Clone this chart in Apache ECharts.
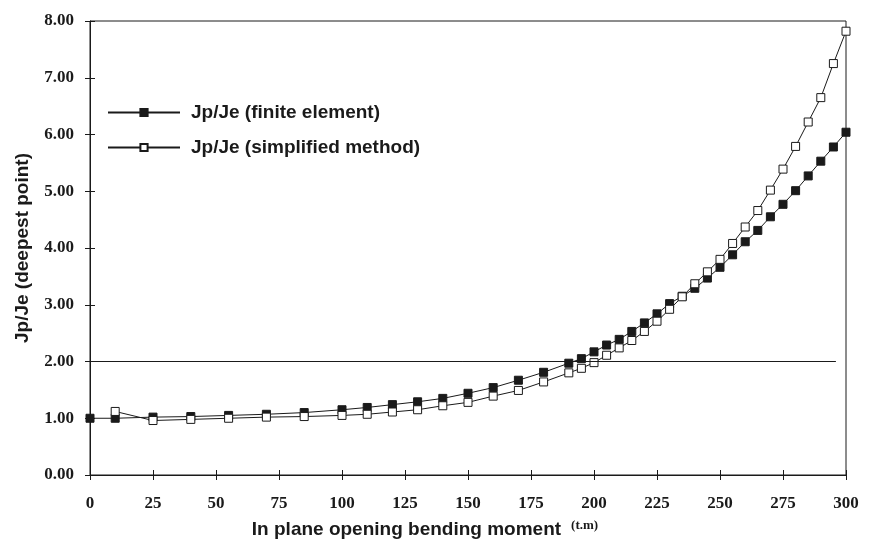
<!DOCTYPE html>
<html>
<head>
<meta charset="utf-8">
<script src="https://cdn.jsdelivr.net/npm/echarts@6/dist/echarts.min.js"></script>
<style>html,body{margin:0;padding:0;background:#fff}#c{width:870px;height:552px}</style>
</head>
<body>
<div id="c"></div>
<script>
// Bending moment (t.m)
const xFinite = [0,10,25,40,55,70,85,100,110,120,130,140,150,160,170,180,190,195,200,205,210,215,220,225,230,235,240,245,250,255,260,265,270,275,280,285,290,295,300];
const yFinite = [1.00,1.00,1.02,1.03,1.05,1.07,1.10,1.15,1.19,1.24,1.29,1.35,1.44,1.54,1.67,1.81,1.97,2.05,2.17,2.29,2.39,2.53,2.68,2.84,3.02,3.15,3.29,3.47,3.66,3.88,4.11,4.31,4.55,4.77,5.01,5.27,5.53,5.78,6.04];
const xSimplified = [10,25,40,55,70,85,100,110,120,130,140,150,160,170,180,190,195,200,205,210,215,220,225,230,235,240,245,250,255,260,265,270,275,280,285,290,295,300];
const ySimplified = [1.12,0.96,0.98,1.00,1.02,1.03,1.05,1.07,1.11,1.15,1.22,1.28,1.39,1.49,1.64,1.80,1.88,1.98,2.11,2.24,2.37,2.53,2.71,2.92,3.14,3.37,3.58,3.80,4.08,4.37,4.66,5.02,5.39,5.79,6.22,6.65,7.25,7.82];
const seriesNames = ['Jp/Je (finite element)', 'Jp/Je (simplified method)'];
const referenceLevel = 2;
const referenceEndX = 296;

const pair = (xs, ys) => xs.map((x, i) => [x, ys[i]]);
const serif = 'Liberation Serif';
const sans = 'Liberation Sans';
const ink = '#1a1a1a';

const xBase = {type:'value', min:0, max:300, interval:25, gridIndex:0};
const yBase = {type:'value', min:0, max:8, interval:1, gridIndex:0};

const chart = echarts.init(document.getElementById('c'));
chart.setOption({
  animation:false,
  backgroundColor:'#fff',
  grid:{left:90, right:24, top:21, bottom:77, show:true, borderColor:ink, borderWidth:1, backgroundColor:'transparent'},
  legend:{
    orient:'vertical', left:102, top:98, itemWidth:72, itemHeight:9, itemGap:16,
    textStyle:{fontFamily:sans, fontWeight:'bold', fontSize:19, color:ink, padding:[0,0,0,6]},
    data:seriesNames
  },
  xAxis:[
    Object.assign({}, xBase, {
      name:'{a|In plane opening bending moment}   {b|(t.m)}',
      nameLocation:'middle', nameGap:44,
      nameTextStyle:{padding:[0,86,0,0], rich:{
        a:{fontFamily:sans, fontWeight:'bold', fontSize:19, color:ink},
        b:{fontFamily:serif, fontWeight:'bold', fontSize:13, color:ink, padding:[0,0,8,0]}
      }},
      axisLine:{show:true, lineStyle:{color:ink, width:1}},
      axisTick:{show:true, length:5, lineStyle:{color:ink}},
      axisLabel:{fontFamily:serif, fontWeight:'bold', fontSize:17, color:ink, margin:20},
      splitLine:{show:false}
    }),
    Object.assign({}, xBase, {
      position:'bottom',
      axisLine:{show:false}, axisLabel:{show:false},
      axisTick:{show:true, inside:true, length:5, lineStyle:{color:ink}},
      splitLine:{show:false}
    })
  ],
  yAxis:[
    Object.assign({}, yBase, {
      name:'Jp/Je (deepest point)', nameLocation:'middle', nameGap:58,
      nameTextStyle:{fontFamily:sans, fontWeight:'bold', fontSize:19, color:ink},
      axisLine:{show:true, lineStyle:{color:ink, width:1}},
      axisTick:{show:true, length:5, lineStyle:{color:ink}},
      axisLabel:{fontFamily:serif, fontWeight:'bold', fontSize:17, color:ink, margin:16,
        formatter:v => v.toFixed(2)},
      splitLine:{show:false}
    }),
    Object.assign({}, yBase, {
      position:'left',
      axisLine:{show:false}, axisLabel:{show:false},
      axisTick:{show:true, inside:true, length:5, lineStyle:{color:ink}},
      splitLine:{show:false}
    })
  ],
  series:[
    {
      name:seriesNames[0], type:'line', data:pair(xFinite, yFinite),
      symbol:'rect', symbolSize:8, showAllSymbol:true,
      lineStyle:{color:ink, width:1}, itemStyle:{color:ink, borderColor:ink, borderWidth:1},
      markLine:{
        silent:true, symbol:['none','none'], label:{show:false},
        lineStyle:{color:ink, width:1, type:'solid'},
        data:[[{coord:[0, referenceLevel]},{coord:[referenceEndX, referenceLevel]}]]
      },
      z:2
    },
    {
      name:seriesNames[1], type:'line', data:pair(xSimplified, ySimplified),
      symbol:'rect', symbolSize:8, showAllSymbol:true,
      lineStyle:{color:ink, width:1}, itemStyle:{color:'#fff', borderColor:ink, borderWidth:1},
      z:3
    }
  ]
});
</script>
</body>
</html>
